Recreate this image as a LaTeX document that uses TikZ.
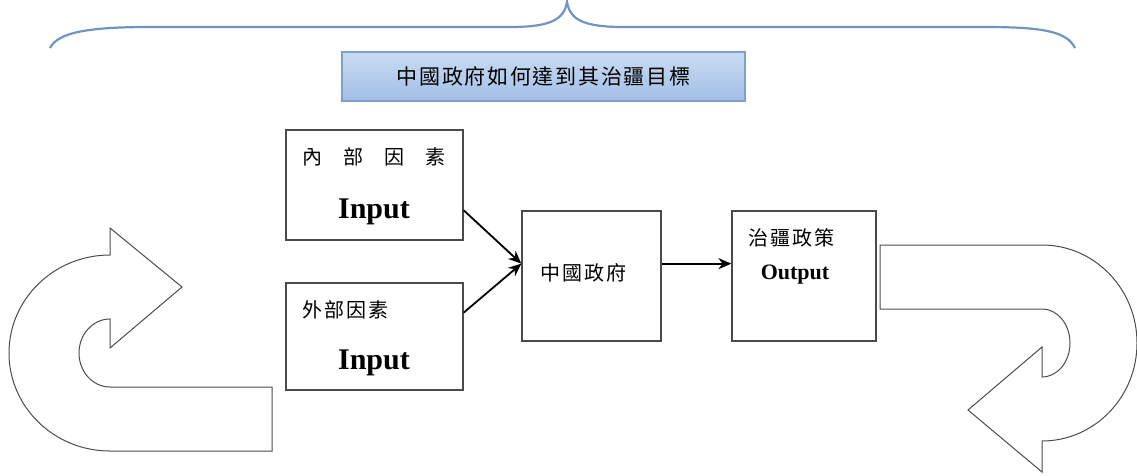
\documentclass[tikz,border=0pt]{standalone}
\usepackage{fontspec}
\setmainfont{Liberation Serif}
\newfontfamily\cjk[LetterSpace=10]{Noto Sans CJK TC}
\newfontfamily\cjktitle[LetterSpace=8]{Noto Sans CJK TC}
\usetikzlibrary{arrows.meta,calc}
\definecolor{bracecol}{HTML}{7393C2}
\definecolor{titleedge}{HTML}{7F9FCC}
\definecolor{titletop}{HTML}{C9DCF2}
\definecolor{titlebot}{HTML}{A2BFE6}
\definecolor{boxedge}{HTML}{4A4A4A}
\begin{document}
\begin{tikzpicture}[x=1pt,y=1pt,
  box/.style={draw=boxedge,line width=1.3pt,fill=white,inner sep=0pt},
  cjklabel/.style={font=\cjk\fontsize{20}{22}\selectfont,inner sep=0pt,anchor=west},
  inlabel/.style={font=\bfseries\fontsize{30}{32}\selectfont,inner sep=0pt},
  flow/.style={-{Stealth[length=13pt,width=11pt]},line width=1.8pt,black},
  uarrow/.style={draw=black!70,line width=1pt,fill=white}]
\useasboundingbox (0,0) rectangle (1137,475);
% brace
\draw[bracecol,line width=2.2pt] (50,427) .. controls (58,443) and (90,448) .. (150,448)
  -- (510,448) .. controls (550,448) and (564,455) .. (567,473)
  .. controls (570,455) and (584,448) .. (624,448) -- (985,448)
  .. controls (1045,448) and (1067,443) .. (1075,427);
% title
\node[draw=titleedge,line width=1.4pt,top color=titletop,bottom color=titlebot,
  minimum width=403pt,minimum height=49pt,inner sep=0pt,
  font=\cjktitle\fontsize{21}{23}\selectfont] (title) at (543.5,398.5) {中國政府如何達到其治疆目標};
% boxes
\node[box,minimum width=177pt,minimum height=110pt] (b1) at (374.5,290) {};
\node[box,minimum width=177pt,minimum height=107pt] (b2) at (374.5,138.5) {};
\node[box,minimum width=139pt,minimum height=130pt] (b3) at (591.5,199) {};
\node[box,minimum width=144pt,minimum height=130pt] (b4) at (804,199) {};
% labels
\node[cjklabel] (l1) at (302,318) {內\hspace{21pt}部\hspace{21pt}因\hspace{21pt}素};
\node[inlabel] (i1) at (374,263) {Input};
\node[cjklabel] (l2) at (302,165) {外部因素};
\node[inlabel] (i2) at (374,112) {Input};
\node[cjklabel] (l3) at (540,202) {中國政府};
\node[cjklabel] (l4) at (748,237) {治疆政策};
\node[font=\bfseries\fontsize{22}{24}\selectfont,inner sep=0pt] (o1) at (795,200) {Output};
% connectors
\draw[flow] ($(b1.south east)!0.273!(b1.north east)$) -- ($(b3.south west)!0.594!(b3.north west)$);
\draw[flow] ($(b2.south east)!0.72!(b2.north east)$) -- ($(b3.south west)!0.594!(b3.north west)$);
\draw[flow] ($(b3.south east)!0.594!(b3.north east)$) -- ($(b4.south west)!0.594!(b4.north west)$);
% left U-turn arrow
\draw[uarrow] (110,156) -- (110,127) -- (182,188) -- (110,247) -- (110,220)
  arc[start angle=90,end angle=270,x radius=101,y radius=98]
  -- (272,24) -- (272,88) -- (110,88)
  arc[start angle=270,end angle=90,x radius=31,y radius=34] -- cycle;
% right U-turn arrow
\draw[uarrow] (880,230) -- (1042,230)
  arc[start angle=90,end angle=-90,x radius=95,y radius=98]
  -- (1042,3) -- (968,65) -- (1042,128) -- (1042,98)
  arc[start angle=-90,end angle=90,x radius=28,y radius=34]
  -- (880,166) -- cycle;
\end{tikzpicture}
\end{document}
